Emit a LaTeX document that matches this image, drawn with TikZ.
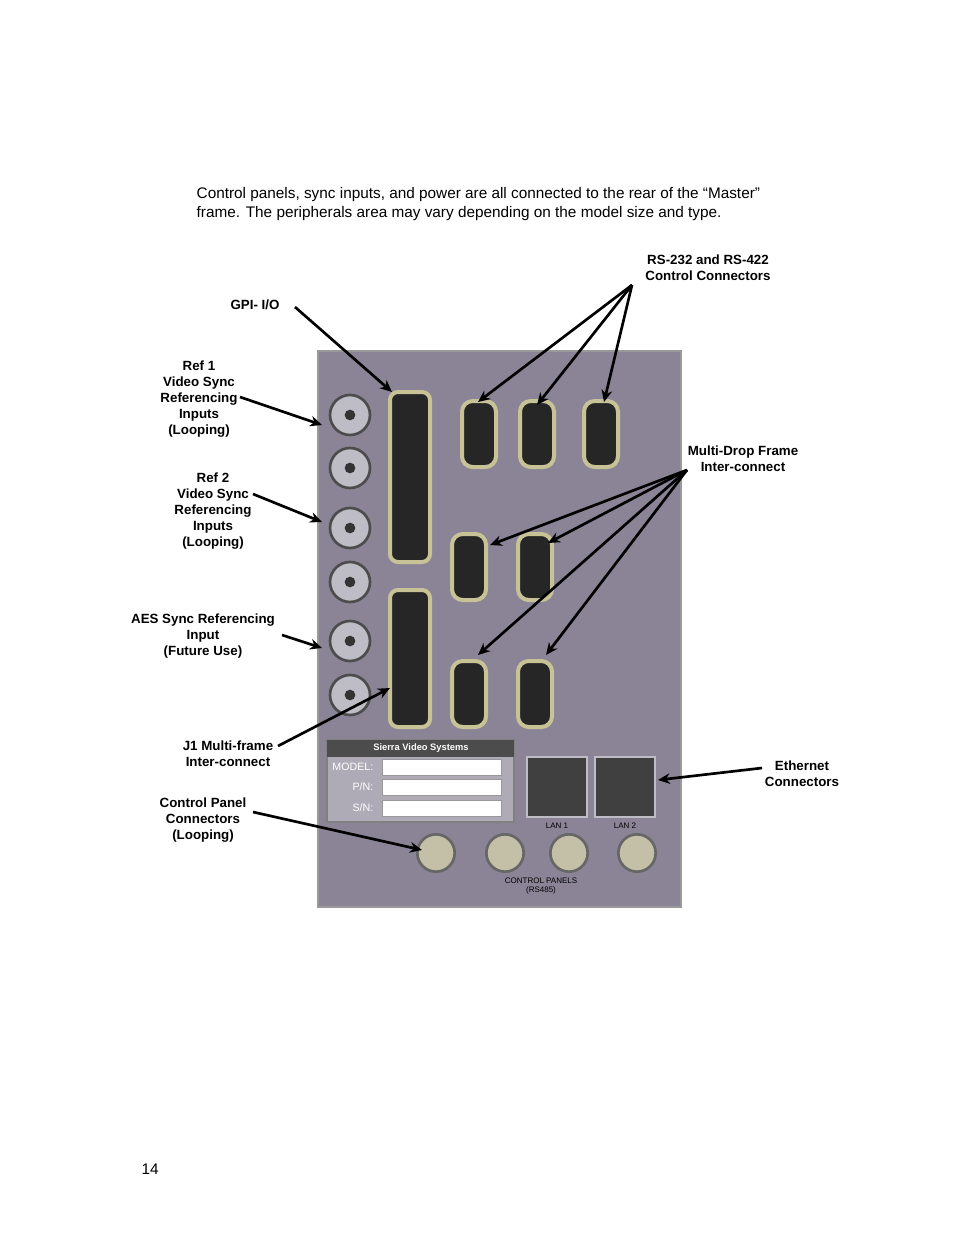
\documentclass[tikz,border=0pt]{standalone}
\usepackage{fontspec}
\setmainfont{Liberation Sans}
\usetikzlibrary{arrows.meta}
\definecolor{plate}{RGB}{138,132,150}
\definecolor{metal}{RGB}{190,188,196}
\definecolor{gold}{RGB}{200,195,150}
\tikzset{
  callout/.style = {font=\bfseries\fontsize{10}{12}\selectfont, align=center},
  pointer/.style = {line width=2pt, -{Stealth[length=9pt,width=8pt]}},
  bnc/.style = {circle, draw=black!70, fill=metal, line width=2pt, minimum size=30pt},
  dsub/.style = {rounded corners=6pt, draw=gold, fill=black!85, line width=3pt},
  jack/.style = {circle, draw=black!60, fill=gold!60!metal, line width=2pt, minimum size=28pt}
}
\begin{document}
\begin{tikzpicture}[x=0.75pt,y=-0.75pt]
\useasboundingbox (0,0) rectangle (954,1235);
\fill[white] (0,0) rectangle (954,1235);

% -- text
\node[anchor=north west, align=left, font=\fontsize{11.5}{14.3}\selectfont] (intro) at (192,183)
  {Control panels, sync inputs, and power are all connected to the rear of the “Master”\\
   frame. The peripherals area may vary depending on the model size and type.};
\node[anchor=west, font=\fontsize{11.5}{14}\selectfont] (page) at (137,1169) {14};

% -- panel
\draw[fill=plate, draw=black!40, line width=1pt] (318,351) rectangle (681,907);
\foreach \y in {415,468,528,582,641,695} {
  \node[bnc] (bnc\y) at (350,\y) {};
  \fill[black!80] (350,\y) circle (4pt);
}
\draw[dsub] (390,392) rectangle (430,562);
\draw[dsub] (390,590) rectangle (430,727);
\foreach \x/\y in {479/434,537/434,601/434,469/567,535/567,469/694,535/694}
  \draw[dsub, rounded corners=8pt] (\x-17,\y-33) rectangle (\x+17,\y+33);
\draw[fill=metal!70!plate, draw=black!50, line width=1.5pt] (327,740) rectangle (514,822);
\fill[black!70] (327,740) rectangle (514,757);
\node[font=\bfseries\fontsize{7}{8}\selectfont, text=white] (brand) at (421,748) {Sierra Video Systems};
\foreach \t/\y in {{MODEL:}/767,{P/N:}/787,{S/N:}/808} {
  \node[anchor=east, font=\fontsize{8}{9}\selectfont, text=white] at (378,\y) {\t};
  \draw[fill=white, draw=black!40] (382,\y-8) rectangle (501,\y+8);
}
\foreach \x/\n in {527/LAN 1,595/LAN 2} {
  \draw[fill=black!75, draw=metal, line width=2pt] (\x,757) rectangle (\x+60,817);
  \node[font=\fontsize{6}{7}\selectfont] at (\x+30,826) {\n};
}
\foreach \x in {436,505,569,637}
  \node[jack] (cp\x) at (\x,853) {};
\node[font=\fontsize{6}{7}\selectfont, align=center] (cplab) at (541,886) {CONTROL PANELS\\(RS485)};

% -- callouts
\node[callout] (gpi) at (255,305) {GPI- I/O};
\node[callout] (rs) at (708,268) {RS-232 and RS-422\\Control Connectors};
\node[callout] (ref1) at (199,399) {Ref 1\\Video Sync\\Referencing\\Inputs\\(Looping)};
\node[callout] (ref2) at (213,511) {Ref 2\\Video Sync\\Referencing\\Inputs\\(Looping)};
\node[callout] (aes) at (203,636) {AES Sync Referencing\\Input\\(Future Use)};
\node[callout] (j1) at (228,754) {J1 Multi-frame\\Inter-connect};
\node[callout] (cpl) at (203,820) {Control Panel\\Connectors\\(Looping)};
\node[callout] (md) at (743,459) {Multi-Drop Frame\\Inter-connect};
\node[callout] (eth) at (802,774) {Ethernet\\Connectors};

\coordinate (rsfoot) at (632,285);
\coordinate (mdfoot) at (687,470);
\draw[pointer] (295,307) -- (392,392);
\foreach \x/\y in {478/402,537/405,604/402} \draw[pointer] (rsfoot) -- (\x,\y);
\draw[pointer] (240,397) -- (322,425);
\draw[pointer] (253,494) -- (322,522);
\draw[pointer] (282,635) -- (322,648);
\draw[pointer] (278,746) -- (390,688);
\draw[pointer] (253,812) -- (422,850);
\foreach \x/\y in {490/545,548/543,478/655,546/655} \draw[pointer] (mdfoot) -- (\x,\y);
\draw[pointer] (762,768) -- (658,780);
\end{tikzpicture}
\end{document}
